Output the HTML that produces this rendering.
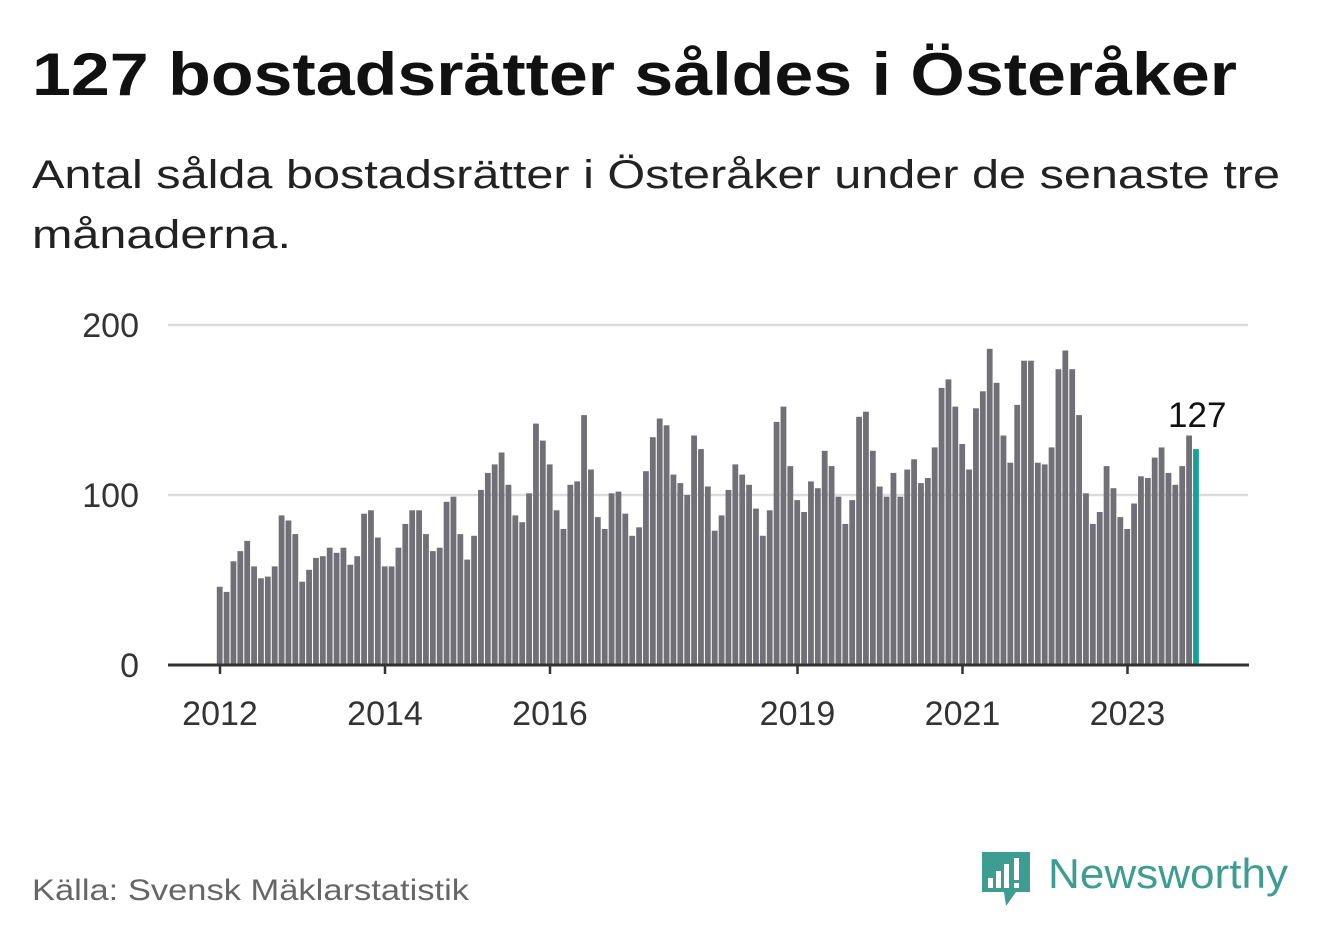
<!DOCTYPE html>
<html><head><meta charset="utf-8">
<style>
html,body{margin:0;padding:0;background:#fff;}
svg{display:block;font-family:"Liberation Sans","DejaVu Sans",sans-serif;}
</style></head>
<body>
<svg id="chart" width="1322" height="939" viewBox="0 0 1322 939">
<text x="32" y="95" font-size="60" font-weight="bold" fill="#111" textLength="1205" lengthAdjust="spacingAndGlyphs">127 bostadsrätter såldes i Österåker</text>
<text x="32" y="188" font-size="40" fill="#222" textLength="1248" lengthAdjust="spacingAndGlyphs">Antal sålda bostadsrätter i Österåker under de senaste tre</text>
<text x="32" y="248" font-size="40" fill="#222" textLength="259" lengthAdjust="spacingAndGlyphs">månaderna.</text>
<g id="grid"></g>
<g id="bars"></g>
<g id="axis"></g>
<text x="32" y="900" font-size="30" fill="#666" textLength="437" lengthAdjust="spacingAndGlyphs">Källa: Svensk Mäklarstatistik</text>
<g>
<path d="M982 852 h48 v40 h-14 l-10 14 l-2 -14 h-22 z" fill="#3d9d91"/>
<rect x="988" y="878" width="5" height="10" fill="#fff"/>
<rect x="996" y="871" width="5" height="17" fill="#fff"/>
<rect x="1004" y="864" width="5" height="24" fill="#fff"/>
<rect x="1014" y="858" width="5" height="22" fill="#fff"/>
<rect x="1014" y="883" width="5" height="5" fill="#fff"/>
<text x="1048" y="888" font-size="42" fill="#3d9d91" textLength="240" lengthAdjust="spacingAndGlyphs">Newsworthy</text>
</g>
</svg>
<script>
const values = [46,43,61,67,73,58,51,52,58,88,85,77,
49,56,63,64,69,66,69,59,64,89,91,75,
58,58,69,83,91,91,77,67,69,96,99,77,
62,76,103,113,118,125,106,88,84,101,142,132,
118,91,80,106,108,147,115,87,80,101,102,89,
76,81,114,134,145,141,112,107,100,135,127,105,
79,88,103,118,112,106,92,76,91,143,152,117,
97,90,108,104,126,117,99,83,97,146,149,126,
105,99,113,99,115,121,107,110,128,163,168,152,
130,115,151,161,186,166,135,119,153,179,179,119,
118,128,174,185,174,147,101,83,90,117,104,87,
80,95,111,110,122,128,113,106,117,135,127];
const yTicks = [0,100,200];
const xTickLabels = ["2012","2014","2016","2019","2021","2023"];
const xTickIndex = [0,24,48,84,108,132];
const lastLabel = "127";

const NS="http://www.w3.org/2000/svg";
const y0=665, pxPerUnit=1.7, x0=220, step=6.875;
function yScale(v){return y0 - v*pxPerUnit;}
function xScale(i){return x0 + i*step;}
function mk(tag,attrs,parent){const e=document.createElementNS(NS,tag);for(const k in attrs)e.setAttribute(k,attrs[k]);parent.appendChild(e);return e;}

const grid=document.getElementById('grid');
yTicks.forEach(t=>{
  if(t>0){
    const l=mk('line',{x1:168,x2:1248,y1:yScale(t),y2:yScale(t),stroke:'#dcdcdc','stroke-width':2.5},grid);
    
    
  }
  const tx=mk('text',{x:139,y:yScale(t)+12,'text-anchor':'end','font-size':34,fill:'#333'},grid);
  tx.textContent=t;
  
  
});

const bars=document.getElementById('bars');
values.forEach((v,i)=>{
  const last=i===values.length-1;
  const r=mk('rect',{x:xScale(i)-3.2,y:yScale(v),width:5.8,height:v*pxPerUnit,fill:last?'#14a39a':'#717077'},bars);
  
  
});
const li=values.length-1;
const lt=mk('text',{x:xScale(li)+1,y:yScale(values[li])-22,'text-anchor':'middle','font-size':35,fill:'#111'},bars);
lt.textContent=lastLabel;



const axis=document.getElementById('axis');
const base=mk('line',{x1:168,x2:1249,y1:665,y2:665,stroke:'#333','stroke-width':3},axis);


xTickLabels.forEach((lab,k)=>{
  const x=xScale(xTickIndex[k]);
  const tk=mk('line',{x1:x,x2:x,y1:665,y2:674,stroke:'#333','stroke-width':2.5},axis);
  
  
  const t=mk('text',{x:x,y:725,'text-anchor':'middle','font-size':34,fill:'#333'},axis);
  t.textContent=lab;
  
  
});
</script>
</body></html>
